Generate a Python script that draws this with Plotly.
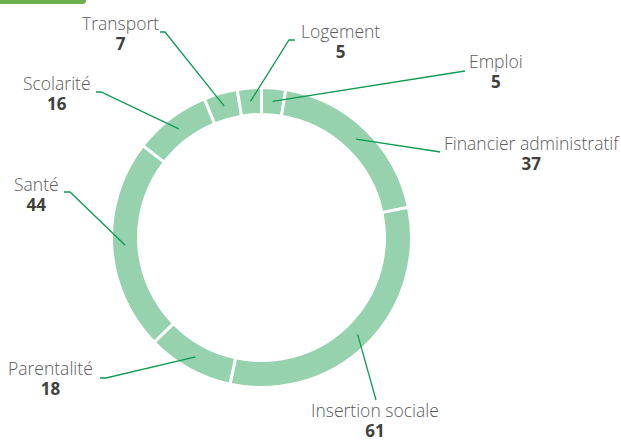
import math
import plotly.graph_objects as go

# Categories in clockwise order starting at 12 o'clock
categories = ["Emploi", "Financier administratif", "Insertion sociale", "Parentalité",
              "Santé", "Scolarité", "Transport", "Logement"]
values = [5, 37, 61, 18, 44, 16, 7, 5]

W, H = 621, 441
CX, CY, R = 261.5, 237.5, 150.0   # donut centre and outer radius (px)
HOLE = 0.82
R_MID = R * (1 + HOLE) / 2        # leader lines start mid-ring
LINE_H = 19.5                     # 1.3 x base font size of the label block

# Label anchor (px): name-line centre, and the elbow where the leader meets the text
label_pos = {
    "Emploi":                 ((496, 61), [(465, 71)]),
    "Financier administratif": ((532, 143), [(440, 152), (434, 151)]),
    "Insertion sociale":      ((375, 410), [(376, 400)]),
    "Parentalité":            ((50, 368), [(100, 378), (106, 378)]),
    "Santé":                  ((36, 184), [(64, 192), (70, 192)]),
    "Scolarité":              ((57, 83), [(96, 92), (101, 92)]),
    "Transport":              ((120, 23), [(160, 32), (165, 32)]),
    "Logement":               ((340, 31), [(295, 40), (289, 40)]),
}

def px(x, y):
    return x / W, 1 - y / H

fig = go.Figure()
fig.add_trace(go.Pie(
    labels=categories, values=values, sort=False, direction="clockwise", rotation=0,
    hole=HOLE, textinfo="none", hoverinfo="label+value",
    marker=dict(colors=["#96d2ae"] * len(values), line=dict(color="white", width=3)),
    domain=dict(x=[(CX - R) / W, (CX + R) / W], y=[1 - (CY + R) / H, 1 - (CY - R) / H]),
    showlegend=False,
))

total = sum(values)
cum = 0
shapes = []
annotations = []
for name, v in zip(categories, values):
    mid = (cum + v / 2) / total * 2 * math.pi
    cum += v
    sx = CX + R_MID * math.sin(mid)
    sy = CY - R_MID * math.cos(mid)
    (lx, ly), elbow = label_pos[name]
    pts = [(sx, sy)] + list(reversed(elbow))
    path = "M " + " L ".join(f"{px(x, y)[0]:.5f},{px(x, y)[1]:.5f}" for x, y in pts)
    shapes.append(dict(type="path", xref="paper", yref="paper", path=path,
                       line=dict(color="#0f9a52", width=1.3)))
    ax, ay = px(lx, ly + LINE_H / 2)
    text = (f"<span style='font-size:17.5px;font-weight:300;fill:#5a5a5a'>{name}</span><br>"
            f"<span style='font-size:17px;font-weight:700;fill:#404040'>{v}</span>")
    annotations.append(dict(x=ax, y=ay, xref="paper", yref="paper", text=text,
                            showarrow=False, xanchor="center", yanchor="middle", align="center",
                            font=dict(family="Open Sans", size=15, color="#5a5a5a")))

# Green tab in the top-left corner
shapes.append(dict(type="path", xref="paper", yref="paper",
                   path=f"M 0,1 L {86/W:.5f},1 L {86/W:.5f},{1-1/H:.5f} "
                        f"Q {86/W:.5f},{1-4/H:.5f} {82/W:.5f},{1-4/H:.5f} L 0,{1-4/H:.5f} Z",
                   fillcolor="#6db04f", line=dict(width=0)))

fig.update_layout(width=W, height=H, margin=dict(l=0, r=0, t=0, b=0),
                  paper_bgcolor="white", plot_bgcolor="white",
                  shapes=shapes, annotations=annotations)
fig.write_html("out.html")
